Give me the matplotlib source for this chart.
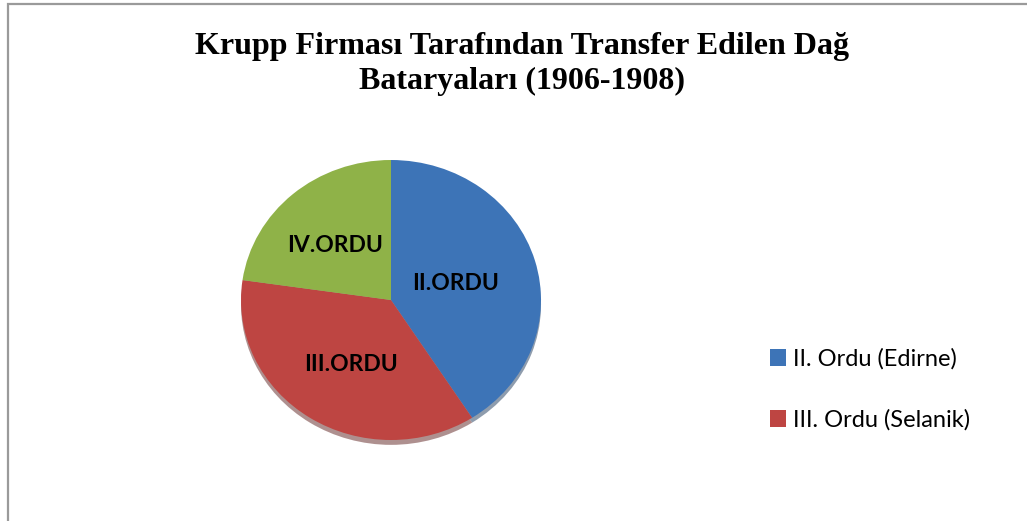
import matplotlib

matplotlib.use("Agg")
import matplotlib.pyplot as plt
from matplotlib.patches import Rectangle

# battery counts per army
labels = ["II.ORDU", "III.ORDU", "IV.ORDU"]
legend_names = ["II. Ordu (Edirne)", "III. Ordu (Selanik)", "IV. Ordu (Erzincan)"]
values = [9, 8, 5]
colors = ["#3D74B7", "#BE4542", "#8FB248"]

W, H = 1027, 521
fig = plt.figure(figsize=(W / 100, H / 100), dpi=100)

# outer chart border (cut off at right and bottom in the reference)
fig.patches.append(Rectangle((7.5 / W, -0.2), 1.2, 1.2 - 3.5 / H,
                             transform=fig.transFigure, fill=False,
                             edgecolor="#9a9a9a", lw=1.6))

fig.text(522 / W, 1 - 64 / H, "Krupp Firması Tarafından Transfer Edilen Dağ\nBataryaları (1906-1908)",
         ha="center", va="center", family="Liberation Serif", weight="bold",
         fontsize=23, linespacing=1.3)

# pie is slightly squashed vertically (rx=150, ry=140 px)
cx, cy, rx, ry = 391, 300, 150, 140
ax = fig.add_axes([(cx - rx) / W, (H - cy - ry) / H, 2 * rx / W, 2 * ry / H])
wedges, texts = ax.pie(values, colors=colors, startangle=90, counterclock=False,
                       labels=labels, labeldistance=0.5,
                       wedgeprops=dict(linewidth=0),
                       textprops=dict(family="Lato", weight="bold", fontsize=16.5, color="black"),
                       shadow=dict(ox=0.0, oy=-0.025, shade=0.5))
ax.set_aspect("auto")
ax.set_xlim(-1, 1)
ax.set_ylim(-1, 1)
ax.axis("off")
for t in texts:
    t.set_ha("center")
    t.set_va("center")
texts[0].set_position((0.43, 0.12))
texts[1].set_position((-0.27, -0.46))
texts[2].set_position((-0.37, 0.39))

fig.legend(wedges[:2], legend_names[:2], loc="center left",
           bbox_to_anchor=(770 / W, 1 - 389.5 / H), frameon=False,
           prop=dict(family="Lato", size=17), borderpad=0, borderaxespad=0,
           handlelength=0.68, handleheight=0.68, handletextpad=0.3, labelspacing=1.67)

fig.savefig("out.png", dpi=100)
